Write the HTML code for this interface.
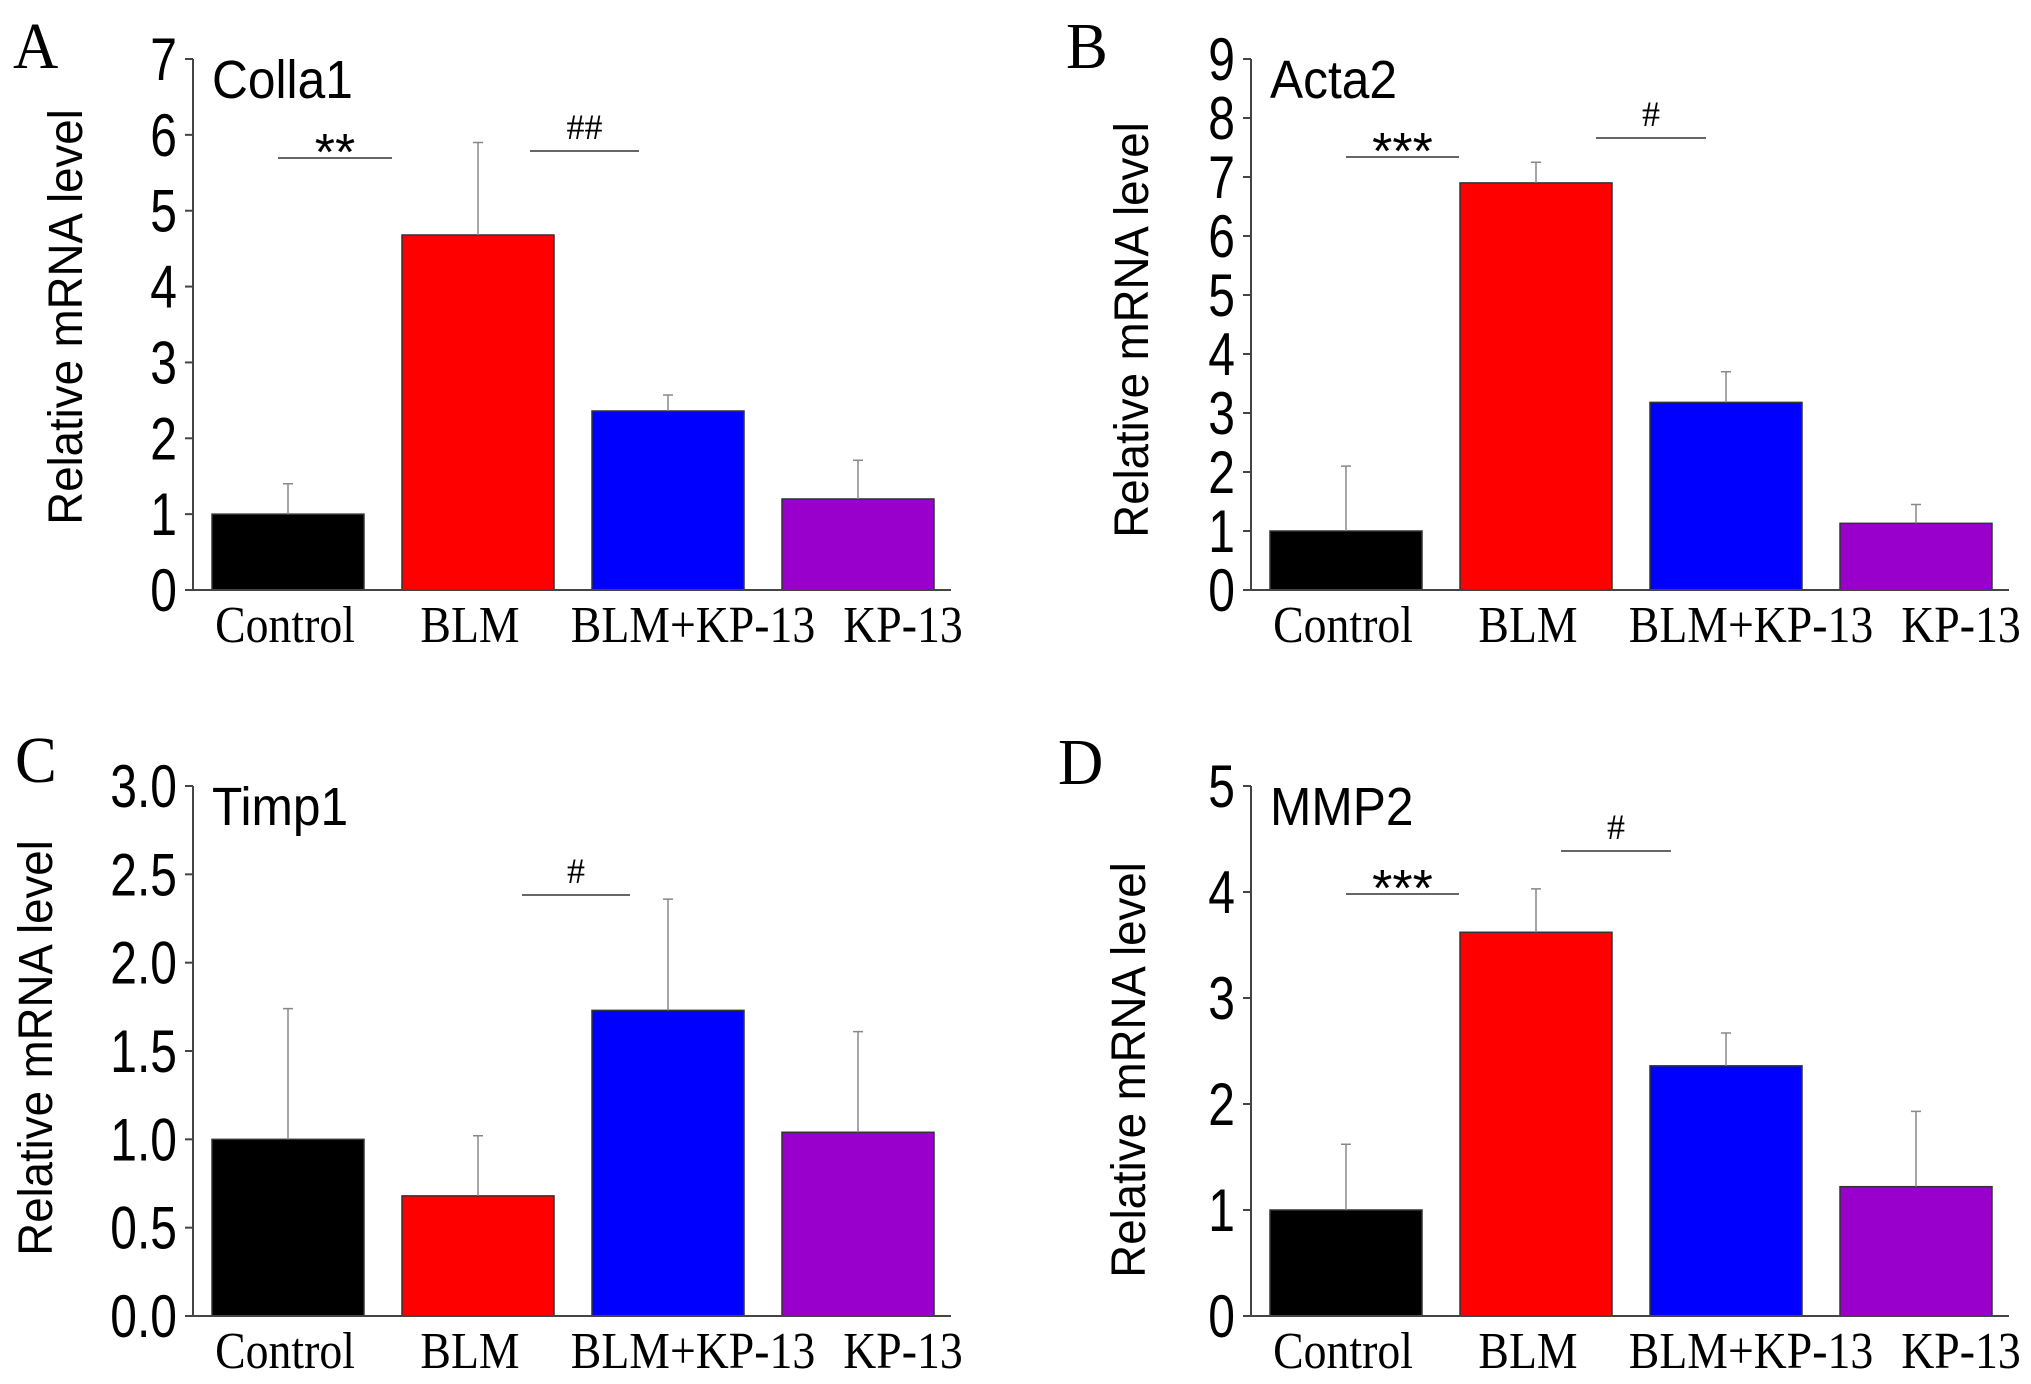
<!DOCTYPE html>
<html><head><meta charset="utf-8"><style>
html,body{margin:0;padding:0;background:#fff}
svg{display:block}
.tick{font-family:"Liberation Sans",sans-serif;font-size:60px;fill:#000}
.ttl{font-family:"Liberation Sans",sans-serif;font-size:54px;fill:#000}
.ylab{font-family:"Liberation Sans",sans-serif;font-size:48px;fill:#000}
.cat{font-family:"Liberation Serif",serif;font-size:52px;fill:#000}
.let{font-family:"Liberation Serif",serif;font-size:66px;fill:#000}
.star{font-family:"Liberation Sans",sans-serif;font-size:52px;fill:#000}
.hash{font-family:"Liberation Serif",serif;font-size:36px;fill:#000}
</style></head><body>
<svg id="fig" width="2031" height="1384" viewBox="0 0 2031 1384" xmlns="http://www.w3.org/2000/svg"></svg>
<script>
const categories = ["Control","BLM","BLM+KP-13","KP-13"];
const colla1Values = [1.0, 4.68, 2.36, 1.2];
const colla1Errors = [1.4, 5.9, 2.57, 1.71];
const acta2Values = [1.0, 6.9, 3.18, 1.13];
const acta2Errors = [2.1, 7.25, 3.7, 1.45];
const timp1Values = [1.0, 0.68, 1.73, 1.04];
const timp1Errors = [1.74, 1.02, 2.36, 1.61];
const mmp2Values = [1.0, 3.62, 2.36, 1.22];
const mmp2Errors = [1.62, 4.03, 2.67, 1.93];
const colla1Ticks = [0,1,2,3,4,5,6,7];
const acta2Ticks = [0,1,2,3,4,5,6,7,8,9];
const timp1Ticks = [0,0.5,1.0,1.5,2.0,2.5,3.0];
const mmp2Ticks = [0,1,2,3,4,5];

const colors = ["#000000","#ff0000","#0000ff","#9900cc"];
const NS = "http://www.w3.org/2000/svg";
const svg = document.getElementById("fig");
function mk(tag, attrs, parent, text){
  const e = document.createElementNS(NS, tag);
  for (const k in attrs) e.setAttribute(k, attrs[k]);
  if (text !== undefined) e.textContent = text;
  (parent || svg).appendChild(e);
  return e;
}
const panels = [
  {id:"a", letter:"A", lx:13, ly:68, title:"Colla1", ox:193, y0:590, ytop:59, vals:colla1Values, errs:colla1Errors, ticks:colla1Ticks, dec:0, ylx:64, yly:317,
   sig:[{x1:278,x2:392,y:158,t:"**",cls:"star"},{x1:530,x2:639,y:151,t:"##",cls:"hash"}]},
  {id:"b", letter:"B", lx:1066, ly:68, title:"Acta2", ox:1251, y0:590, ytop:59, vals:acta2Values, errs:acta2Errors, ticks:acta2Ticks, dec:0, ylx:1130, yly:330,
   sig:[{x1:1346,x2:1459,y:157,t:"***",cls:"star"},{x1:1596,x2:1706,y:138,t:"#",cls:"hash"}]},
  {id:"c", letter:"C", lx:15, ly:782, title:"Timp1", ox:193, y0:1316, ytop:786, vals:timp1Values, errs:timp1Errors, ticks:timp1Ticks, dec:1, ylx:34, yly:1048,
   sig:[{x1:522,x2:630,y:895,t:"#",cls:"hash"}]},
  {id:"d", letter:"D", lx:1058, ly:784, title:"MMP2", ox:1251, y0:1316, ytop:786, vals:mmp2Values, errs:mmp2Errors, ticks:mmp2Ticks, dec:0, ylx:1127, yly:1070,
   sig:[{x1:1346,x2:1459,y:894,t:"***",cls:"star"},{x1:1561,x2:1671,y:851,t:"#",cls:"hash"}]}
];
const catOffsets = [92, 277, 500, 710];
panels.forEach(p => {
  const g = mk("g", {});
  
  
  const tmax = p.ticks[p.ticks.length-1];
  const yS = v => p.y0 - (v / tmax) * (p.y0 - p.ytop);
  const bx = i => p.ox + 19 + i * 190;
  const bw = 152;
  const L = mk("text", {x:0, y:0, class:"let", transform:`translate(${p.lx},${p.ly}) scale(0.95,1)`}, g, p.letter);
  
  
  const T = mk("text", {x:0, y:0, class:"ttl", transform:`translate(${p.ox+19},${p.ytop+39}) scale(0.92,1)`}, g, p.title);
  
  
  const Y = mk("text", {x:0, y:0, class:"ylab", "text-anchor":"middle", transform:`translate(${p.ylx+18},${p.yly}) rotate(-90) scale(0.95,1)`}, g, "Relative mRNA level");
  
  
  p.vals.forEach((v,i) => {
    const top = yS(v);
    const r = mk("rect", {x:bx(i), y:top, width:bw, height:p.y0-top, fill:colors[i], stroke:"#333", "stroke-width":1.5}, g);
    
    
    const cx = bx(i) + bw/2;
    const et = yS(p.errs[i]);
    const e = mk("path", {d:`M${cx},${top} V${et} M${cx-5},${et} H${cx+5}`, stroke:"#888", "stroke-width":1.5, fill:"none"}, g);
    
    
    const c = mk("text", {x:0, y:0, class:"cat", "text-anchor":"middle", transform:`translate(${p.ox+catOffsets[i]},${p.y0+52}) scale(0.88,1)`}, g, categories[i]);
    
    
  });
  const ax = mk("path", {d:`M${p.ox},${p.ytop} V${p.y0} H${p.ox+758}`, stroke:"#444", "stroke-width":2, fill:"none"}, g);
  
  
  p.ticks.forEach(t => {
    const y = yS(t);
    const tk = mk("line", {x1:p.ox-8, x2:p.ox, y1:y, y2:y, stroke:"#444", "stroke-width":2}, g);
    
    
    const tl = mk("text", {x:0, y:0, class:"tick", "text-anchor":"end", transform:`translate(${p.ox-16},${y+21}) scale(0.8,1)`}, g, t.toFixed(p.dec));
    
    
  });
  p.sig.forEach(s => {
    const ln = mk("line", {x1:s.x1, x2:s.x2, y1:s.y, y2:s.y, stroke:"#666", "stroke-width":2}, g);
    
    
    const st = mk("text", {x:(s.x1+s.x2)/2, y:s.y-(s.cls==="star"?-12:12), class:s.cls, "text-anchor":"middle"}, g, s.t);
    
    
  });
});
</script>
</body></html>
